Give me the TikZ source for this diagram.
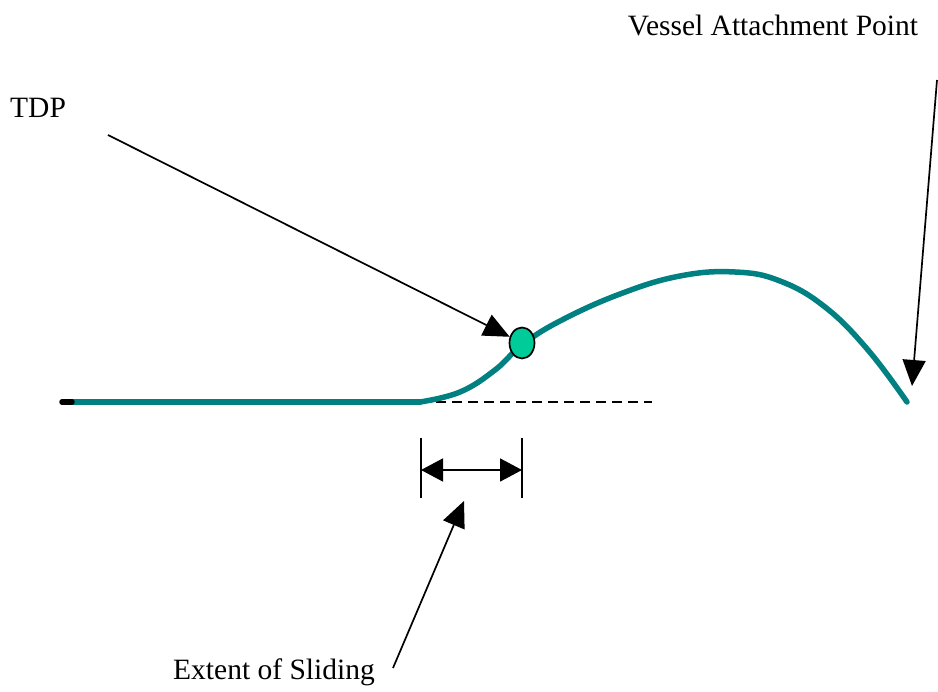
\documentclass[tikz,border=0pt]{standalone}
\usepackage{fontspec}
\setmainfont{Liberation Serif}
\usetikzlibrary{arrows.meta,shapes.geometric}
\definecolor{cable}{RGB}{0,128,128}
\definecolor{tdpfill}{RGB}{0,204,153}
\tikzset{
  pointer/.style={-{Triangle[length=26pt,width=23pt]}, line width=1.7pt},
  label/.style={font=\fontsize{29.5}{34}\selectfont, inner sep=0pt},
  riser/.style={cable, line width=5.5pt, line cap=round, line join=round}
}
\begin{document}
\begin{tikzpicture}[x=1pt,y=-1pt]
\useasboundingbox (0,0) rectangle (938,692);
% seabed and riser
\coordinate (anchor) at (62,402);
\coordinate (lift) at (420,402);
\coordinate (seabedend) at (652,402);
\coordinate (vessel) at (907,402);
\draw[riser] (72,402) -- (lift);
\draw[line width=5.5pt, line cap=round] (anchor) -- (72,402);
\draw[line width=1.5pt, dash pattern=on 10pt off 6pt] (lift) -- (seabedend);
\draw[riser] plot[smooth, tension=0.7] coordinates {(420,402) (460,392) (495,370) (522,345) (560,321) (620,294) (680,276) (735,272) (780,281) (825,307) (868,350) (907,402)};
% touch down point
\node[ellipse, draw, line width=1.7pt, fill=tdpfill, minimum width=25pt, minimum height=31pt, inner sep=0pt] (tdp) at (522,343) {};
% labels
\node[label, anchor=west] (tdplabel) at (10,108) {TDP};
\node[label] (vessellabel) at (773,25) {Vessel Attachment Point};
\node[label] (slidelabel) at (274,672) {Extent of Sliding};
% pointers
\coordinate (tdptail) at (108,135);
\coordinate (vesseltail) at (937,80);
\coordinate (vesseltip) at (912,386);
\coordinate (slidetail) at (393,668);
\coordinate (slidetip) at (464,501);
\draw[pointer] (tdptail) -- (tdp);
\draw[pointer] (vesseltail) -- (vesseltip);
\draw[pointer] (slidetail) -- (slidetip);
% extent of sliding
\coordinate (lefttop) at (421,438);
\coordinate (leftbot) at (421,498);
\coordinate (righttop) at (522,438);
\coordinate (rightbot) at (522,498);
\draw[line width=1.7pt] (lefttop) -- (leftbot);
\draw[line width=1.7pt] (righttop) -- (rightbot);
\draw[{Triangle[length=22pt,width=23pt]}-{Triangle[length=22pt,width=23pt]}, line width=1.7pt] (421,470) -- (522,470);
\end{tikzpicture}
\end{document}
